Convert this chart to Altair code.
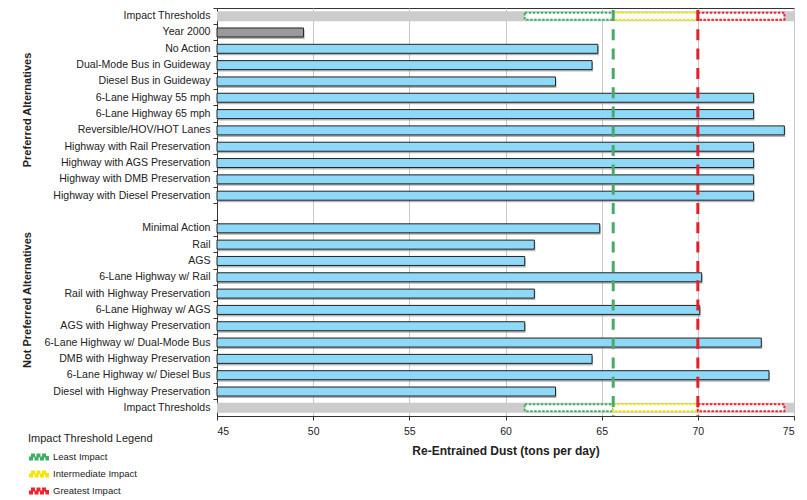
import altair as alt
import pandas as pd

FONT = "Liberation Sans"

# rows from top to bottom ("" = empty spacer row)
row_labels = [
    "Impact Thresholds", "Year 2000", "No Action", "Dual-Mode Bus in Guideway",
    "Diesel Bus in Guideway", "6-Lane Highway 55 mph", "6-Lane Highway 65 mph",
    "Reversible/HOV/HOT Lanes", "Highway with Rail Preservation",
    "Highway with AGS Preservation", "Highway with DMB Preservation",
    "Highway with Diesel Preservation", "",
    "Minimal Action", "Rail", "AGS", "6-Lane Highway w/ Rail",
    "Rail with Highway Preservation", "6-Lane Highway w/ AGS",
    "AGS with Highway Preservation", "6-Lane Highway w/ Dual-Mode Bus",
    "DMB with Highway Preservation", "6-Lane Highway w/ Diesel Bus",
    "Diesel with Highway Preservation", "Impact Thresholds",
]
# "thr" = impact threshold row, "base" = Year 2000, "alt" = alternative, "gap" = spacer
row_kind = ["thr", "base"] + ["alt"] * 10 + ["gap"] + ["alt"] * 11 + ["thr"]
dust_values = [
    None, 49.5, 64.8, 64.5, 62.6, 72.9, 72.9, 74.5, 72.9, 72.9, 72.9, 72.9, None,
    64.9, 61.5, 61.0, 70.2, 61.5, 70.1, 61.0, 73.3, 64.5, 73.7, 62.6, None,
]

x_min, x_max = 45, 75
thr_edges = [61.0, 65.6, 70.0, 74.5]
thr_levels = ["Least Impact", "Intermediate Impact", "Greatest Impact"]
thr_colors = ["#3FAE63", "#F2E600", "#EE2230"]
thr_lines = [65.6, 70.0]
thr_line_colors = ["#4AA86B", "#E51F2A"]

group_titles = ["Preferred Alternatives", "Not Preferred Alternatives"]

n = len(row_labels)
idx = list(range(n))

bars = pd.DataFrame([
    {"idx": i, "value": v, "kind": k}
    for i, v, k in zip(idx, dust_values, row_kind) if k in ("alt", "base")
])
thr_rows = pd.DataFrame([
    {"idx": i, "x0": x_min, "x1": x_max} for i, k in zip(idx, row_kind) if k == "thr"
])
segs = pd.DataFrame([
    {"idx": i, "x0": thr_edges[j], "x1": thr_edges[j + 1], "level": thr_levels[j]}
    for i, k in zip(idx, row_kind) if k == "thr" for j in range(3)
])
lines = pd.DataFrame({"x": thr_lines, "c": thr_line_colors})
titles = pd.DataFrame({"t": group_titles, "yy": [102, 292]})

label_expr = "[" + ",".join("'" + s + "'" for s in row_labels) + "][datum.value]"

y_scale = alt.Scale(domain=idx, paddingInner=0, paddingOuter=0)
y_axis = alt.Axis(
    title=None, labelExpr=label_expr, bandPosition=0, tickSize=4, labelPadding=3,
    domainColor="#333", tickColor="#333", labelColor="#222", labelFontSize=10.6,
    labelFont=FONT, labelLimit=300,
)
x_scale = alt.Scale(domain=[x_min, x_max], nice=False, zero=False)
x_axis = alt.Axis(
    title="Re-Entrained Dust (tons per day)", values=list(range(x_min, x_max + 1, 5)),
    tickSize=4, labelPadding=6, titlePadding=9, domainColor="#333", tickColor="#333",
    labelColor="#222", labelFontSize=10.5, labelFont=FONT, titleFont=FONT,
    titleFontSize=12, titleFontWeight="bold", titleColor="#222",
    gridColor="#c8c8c8", gridWidth=1,
)

Y = alt.Y("idx:O", scale=y_scale, axis=y_axis)

thr_bg = alt.Chart(thr_rows).mark_bar(height=10, color="#cccccc").encode(
    x=alt.X("x0:Q", scale=x_scale, axis=x_axis), x2="x1:Q", y=Y
)
seg_dash = alt.Chart(segs).mark_bar(
    height=7, fill="white", strokeWidth=2, strokeDash=[2.5, 1.5]
).encode(
    x="x0:Q", x2="x1:Q", y=Y,
    stroke=alt.Stroke(
        "level:N",
        scale=alt.Scale(domain=thr_levels, range=thr_colors),
        legend=alt.Legend(
            title="Impact Threshold Legend", orient="none", legendX=-189, legendY=425,
            titleFont=FONT, titleFontSize=11, titleFontWeight="normal", titleColor="#222",
            titlePadding=6, labelFont=FONT, labelFontSize=9.5, labelColor="#222",
            symbolType="M-0.8,-0.3H2.4V0.3H-0.8Z", symbolSize=100, symbolStrokeWidth=4,
            symbolDash=[4, 1.5], rowPadding=-4, labelOffset=11,
        ),
    ),
)
shadow = alt.Chart(bars).mark_bar(height=9, color="#7a7a7a", opacity=0.55,
                                   yOffset=2, xOffset=1).encode(
    x=alt.X("value:Q", scale=x_scale), x2=alt.datum(x_min), y=Y
)
main = alt.Chart(bars).mark_bar(height=9, stroke="#222", strokeWidth=1).encode(
    x=alt.X("value:Q", scale=x_scale), x2=alt.datum(x_min), y=Y,
    fill=alt.Fill("kind:N", scale=alt.Scale(domain=["base", "alt"],
                                            range=["#9a9a9a", "#8ED8F8"]), legend=None),
)
vlines = alt.Chart(lines).mark_rule(strokeWidth=3, strokeDash=[11, 8.3],
                                    strokeDashOffset=17.3).encode(
    x=alt.X("x:Q", scale=x_scale), color=alt.Color("c:N", scale=None)
)
group_text = alt.Chart(titles).mark_text(
    angle=270, font=FONT, fontSize=11, fontWeight="bold", color="#222"
).encode(text="t:N", x=alt.value(-189), y=alt.Y("yy:Q", scale=None))

chart = alt.layer(
    thr_bg, seg_dash, shadow, main, vlines, group_text
).properties(
    width=577, height=408,
    padding={"left": 209, "top": 0, "right": 5, "bottom": 82},
    autosize=alt.AutoSizeParams(type="none"),
).configure_view(stroke="#333", strokeWidth=1)

chart.save("out.html", embed_options={"renderer": "svg", "actions": False})
